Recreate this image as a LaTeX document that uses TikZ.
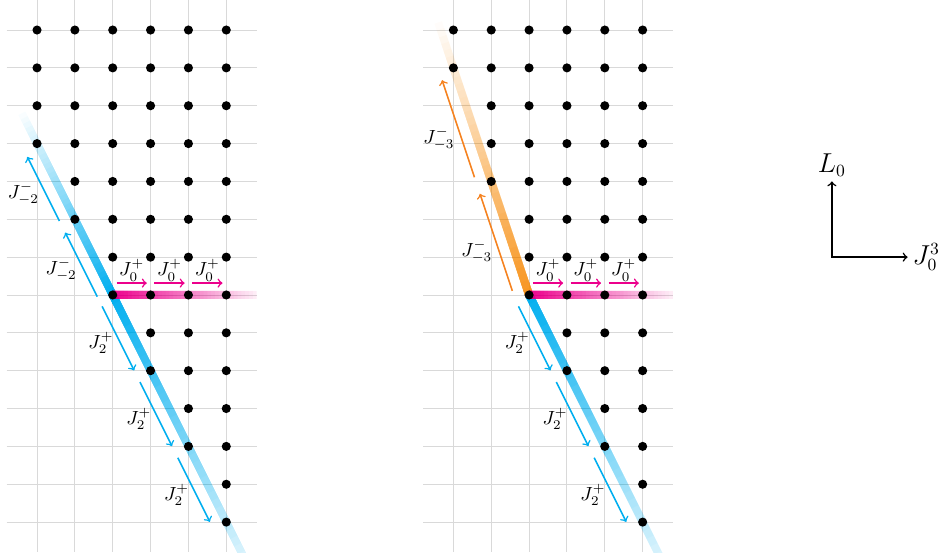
\documentclass[tikz,border=0pt]{standalone}
\usetikzlibrary{calc}
\definecolor{jblue}{HTML}{00AEEF}
\definecolor{jmag}{HTML}{EC008C}
\definecolor{jorange}{HTML}{F7941D}
\definecolor{jorangearrow}{HTML}{F58220}
\tikzset{
  gridline/.style={draw=black!15, line width=0.5pt},
  dot/.style={circle, fill=black, inner sep=0pt, minimum size=4.8pt},
  mvarrow/.style={line width=0.8pt, ->},
  marrow/.style={mvarrow, draw=jmag, shorten <=0.07cm, shorten >=0.07cm},
  barrow/.style={mvarrow, draw=jblue, shorten <=0.1cm, shorten >=0.14cm},
  oarrow/.style={mvarrow, draw=jorangearrow, shorten <=0.17cm, shorten >=0.15cm},
  uplab/.style={midway, above, inner sep=0.7pt, text=black},
  dnlab/.style={pos=0.55, left, text=black},
  uplablft/.style={pos=0.42, left, text=black},
  axarrow/.style={line width=0.8pt, <->},
  axlab/.style={font=\fontsize{13.5}{16}\selectfont, inner sep=2.5pt},
}
\newcommand{\fadeband}[3]{%
  \foreach \k in {1,...,40}{%
    \pgfmathsetmacro{\op}{1/(\k+0.5)}%
    \pgfmathsetmacro{\fr}{\k/40}%
    \draw[draw=#1, line width=4.2pt, draw opacity=\op] (#2) -- ($(#2)!\fr!(#3)$);
  }%
}
\def\boff{0.27cm}
\def\moff{0.22cm}
\begin{document}
\begin{tikzpicture}[x=0.7cm, y=-0.7cm]
\useasboundingbox (-0.978,-0.793) rectangle (24.12,13.897);

% ---------------- left panel ----------------
\begin{scope}
  \foreach \i in {0,...,5} \draw[gridline] (\i,-0.8) -- (\i,13.8);
  \foreach \j in {0,...,13} \draw[gridline] (-0.8,\j) -- (5.8,\j);
  \begin{scope}
    \clip (-0.8,-0.8) rectangle (5.8,13.8);
    \fadeband{jblue}{2,7}{-0.4,2.2}
    \fadeband{jblue}{2,7}{6,15}
    \fadeband{jmag}{2,7}{6,7}
  \end{scope}
  \foreach \j/\m in {0/0,1/0,2/0,3/0,4/1,5/1,6/2,7/2,8/3,9/3,10/4,11/4,12/5,13/5}
    \foreach \i in {\m,...,5} \node[dot] (L-\i-\j) at (\i,\j) {};
  % J0+
  \draw[marrow] ($(L-2-7)!\moff!90:(L-3-7)$) -- ($(L-3-7)!\moff!-90:(L-2-7)$) node[uplab] (la1) {$J^+_0$};
  \draw[marrow] ($(L-3-7)!\moff!90:(L-4-7)$) -- ($(L-4-7)!\moff!-90:(L-3-7)$) node[uplab] (la2) {$J^+_0$};
  \draw[marrow] ($(L-4-7)!\moff!90:(L-5-7)$) -- ($(L-5-7)!\moff!-90:(L-4-7)$) node[uplab] (la3) {$J^+_0$};
  % J-2-
  \draw[barrow] ($(L-2-7)!\boff!90:(L-1-5)$) -- ($(L-1-5)!\boff!-90:(L-2-7)$) node[uplablft] (la4) {$J^-_{-2}$};
  \draw[barrow] ($(L-1-5)!\boff!90:(L-0-3)$) -- ($(L-0-3)!\boff!-90:(L-1-5)$) node[uplablft] (la5) {$J^-_{-2}$};
  % J2+
  \draw[barrow] ($(L-2-7)!\boff!-90:(L-3-9)$) -- ($(L-3-9)!\boff!90:(L-2-7)$) node[dnlab] (la6) {$J^+_2$};
  \draw[barrow] ($(L-3-9)!\boff!-90:(L-4-11)$) -- ($(L-4-11)!\boff!90:(L-3-9)$) node[dnlab] (la7) {$J^+_2$};
  \draw[barrow] ($(L-4-11)!\boff!-90:(L-5-13)$) -- ($(L-5-13)!\boff!90:(L-4-11)$) node[dnlab] (la8) {$J^+_2$};
\end{scope}

% ---------------- right panel ----------------
\begin{scope}[shift={(11,0)}]
  \foreach \i in {0,...,5} \draw[gridline] (\i,-0.8) -- (\i,13.8);
  \foreach \j in {0,...,13} \draw[gridline] (-0.8,\j) -- (5.8,\j);
  \begin{scope}
    \clip (-0.8,-0.8) rectangle (5.8,13.8);
    \fadeband{jorange}{2,7}{-0.4,-0.2}
    \fadeband{jblue}{2,7}{6,15}
    \fadeband{jmag}{2,7}{6,7}
  \end{scope}
  \foreach \j/\m in {0/0,1/0,2/1,3/1,4/1,5/2,6/2,7/2,8/3,9/3,10/4,11/4,12/5,13/5}
    \foreach \i in {\m,...,5} \node[dot] (R-\i-\j) at (\i,\j) {};
  % J0+
  \draw[marrow] ($(R-2-7)!\moff!90:(R-3-7)$) -- ($(R-3-7)!\moff!-90:(R-2-7)$) node[uplab] (rb1) {$J^+_0$};
  \draw[marrow] ($(R-3-7)!\moff!90:(R-4-7)$) -- ($(R-4-7)!\moff!-90:(R-3-7)$) node[uplab] (rb2) {$J^+_0$};
  \draw[marrow] ($(R-4-7)!\moff!90:(R-5-7)$) -- ($(R-5-7)!\moff!-90:(R-4-7)$) node[uplab] (rb3) {$J^+_0$};
  % J-3-
  \draw[oarrow] ($(R-2-7)!\boff!90:(R-1-4)$) -- ($(R-1-4)!\boff!-90:(R-2-7)$) node[uplablft] (rb4) {$J^-_{-3}$};
  \draw[oarrow] ($(R-1-4)!\boff!90:(R-0-1)$) -- ($(R-0-1)!\boff!-90:(R-1-4)$) node[uplablft] (rb5) {$J^-_{-3}$};
  % J2+
  \draw[barrow] ($(R-2-7)!\boff!-90:(R-3-9)$) -- ($(R-3-9)!\boff!90:(R-2-7)$) node[dnlab] (rb6) {$J^+_2$};
  \draw[barrow] ($(R-3-9)!\boff!-90:(R-4-11)$) -- ($(R-4-11)!\boff!90:(R-3-9)$) node[dnlab] (rb7) {$J^+_2$};
  \draw[barrow] ($(R-4-11)!\boff!-90:(R-5-13)$) -- ($(R-5-13)!\boff!90:(R-4-11)$) node[dnlab] (rb8) {$J^+_2$};
\end{scope}

% ---------------- axes ----------------
\coordinate (ax-o) at (21,6);
\coordinate (ax-y) at (21,4);
\coordinate (ax-x) at (23,6);
\draw[axarrow] (ax-y) -- (ax-o) -- (ax-x);
\node[axlab, above] (ax-ylab) at (ax-y) {$L_0$};
\node[axlab, right] (ax-xlab) at (ax-x) {$J^3_0$};
\end{tikzpicture}
\end{document}
